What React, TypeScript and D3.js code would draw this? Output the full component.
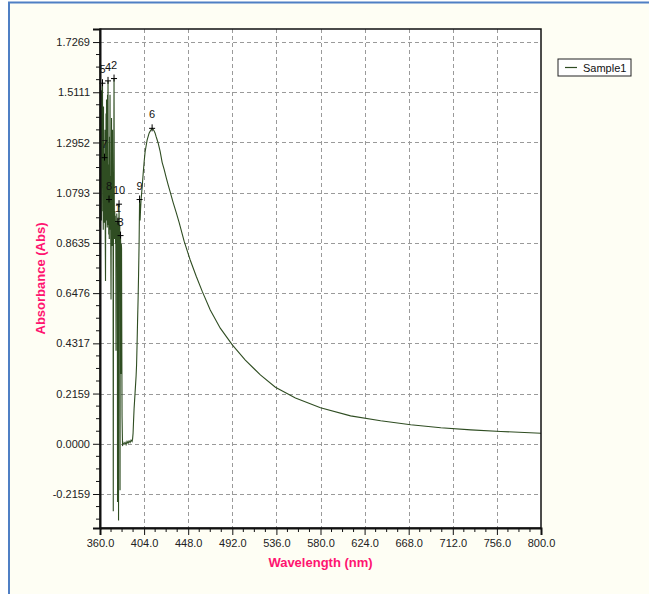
import React, { useEffect, useRef } from 'react';
import * as d3 from 'd3';

// noisy start of the spectrum, 0.25 nm grid (nm / Abs)
const noiseWavelengths = [
  360.0, 360.25, 360.5, 360.75, 361.0, 361.25, 361.5, 361.75,
  362.0, 362.25, 362.5, 362.75, 363.0, 363.25, 363.5, 363.75,
  364.0, 364.25, 364.5, 364.75, 365.0, 365.25, 365.5, 365.75,
  366.0, 366.25, 366.5, 366.75, 367.0, 367.25, 367.5, 367.75,
  368.0, 368.25, 368.5, 368.75, 369.0, 369.25, 369.5, 369.75,
  370.0, 370.25, 370.5, 370.75, 371.0, 371.25, 371.5, 371.75,
  372.0, 372.25, 372.5, 372.75, 373.0, 373.25, 373.5, 373.75,
  374.0, 374.25, 374.5, 374.75, 375.0, 375.25, 375.5, 375.75,
  376.0, 376.25, 376.5, 376.75, 377.0, 377.25, 377.5, 377.75,
  378.0, 378.25, 378.5, 378.75, 379.0, 379.25, 379.5, 379.75,
  380.0, 380.25, 380.5, 380.75, 381.0, 381.25, 381.5, 381.75,
  382.0, 382.25, 382.5, 382.75, 383.0,
];
const noiseAbsorbance = [
  0.93, 1.30, 1.45, 1.02, 1.20, 1.52, 0.96, 1.38,
  1.10, 1.47, 1.55, 1.00, 1.28, 0.92, 1.45, 1.05,
  1.18, 0.95, 1.23, 0.98, 1.35, 0.88, 0.70, 1.10,
  1.42, 0.96, 1.48, 1.02, 1.25, 0.93, 1.50, 1.12,
  1.56, 0.94, 1.20, 0.90, 1.05, 0.88, 1.32, 0.92,
  1.50, 0.97, 1.15, 0.86, 0.62, 0.95, 1.40, 0.90,
  1.02, 0.85, 1.35, 0.92, 1.00, -0.29, 0.95, 1.20,
  1.57, 1.05, 0.88, 1.00, 0.90, 0.98, 0.86, 0.95,
  0.40, 0.92, 0.87, 0.99, 0.90, 0.97, -0.25, 0.93,
  0.955, 0.88, -0.33, 0.92, 1.03, 0.90, 0.86, 0.94,
  -0.20, 0.88, 0.895, 0.80, 0.30, 0.86, 0.84, 0.45,
  0.12, 0.05, -0.01, 0.01, 0.0,
];

// baseline, band and tail
const bandWavelengths = [
  384, 385, 386, 387, 388, 389, 390, 391, 392, 392.5, 393, 393.5, 394, 395, 396, 396.5,
  397, 397.5, 398, 398.5, 399, 399.5, 400, 400.5, 401, 402, 403, 404, 405, 406,
  407, 408, 409, 410, 411, 412, 413, 414, 415, 416, 417, 418, 420, 422, 424,
  426, 428, 430, 433, 436, 439, 444, 450, 456, 462, 470, 480, 492, 505, 520,
  535, 555, 580, 610, 640, 670, 700, 730, 760, 800,
];
const bandAbsorbance = [
  0.0, 0.006, -0.004, 0.01, 0.002, 0.012, 0.005, 0.016, 0.01, 0.02, 0.045, 0.10, 0.15, 0.22, 0.29, 0.34,
  0.43, 0.53, 0.62, 0.73, 0.86, 1.05, 0.96, 1.01, 1.05, 1.10, 1.157, 1.21, 1.255, 1.28,
  1.305, 1.32, 1.335, 1.343, 1.35, 1.356, 1.352, 1.345, 1.335, 1.32, 1.307, 1.293, 1.257, 1.21, 1.18,
  1.145, 1.113, 1.083, 1.037, 0.995, 0.951, 0.87, 0.79, 0.72, 0.655, 0.575, 0.497, 0.425, 0.36, 0.296,
  0.243, 0.197, 0.155, 0.12, 0.099, 0.082, 0.069, 0.06, 0.053, 0.045,
];

const peakLabels = ['5', '7', '4', '8', '2', '1', '10', '3', '9', '6'];
const peakWavelengths = [362.5, 364.5, 368.0, 369.0, 374.0, 378.0, 379.0, 380.5, 399.5, 412];

const xTicks = [360, 404, 448, 492, 536, 580, 624, 668, 712, 756, 800];
const yTicks = [-0.2159, 0, 0.2159, 0.4317, 0.6476, 0.8635, 1.0793, 1.2952, 1.5111, 1.7269];

const seriesName = 'Sample1';

const W = 649;
const H = 594;
const plot = { left: 100, top: 29, right: 541, bottom: 528 };
const font = '"Liberation Sans", Arial, sans-serif';
const lineColor = '#2f4d22';
const titleColor = '#ff1470';

export default function App() {
  const ref = useRef<SVGSVGElement>(null);

  useEffect(() => {
    const svg = d3.select(ref.current);
    svg.selectAll('*').remove();

    const wavelengths = noiseWavelengths.concat(bandWavelengths);
    const absorbance = noiseAbsorbance.concat(bandAbsorbance);

    // outer panel
    svg.append('rect').attr('width', W).attr('height', H).attr('fill', '#ffffff');
    svg.append('rect')
      .attr('x', 9).attr('y', 2.5).attr('width', W + 20).attr('height', H + 20)
      .attr('fill', '#fefef4').attr('stroke', '#4f7fc4').attr('stroke-width', 2);

    const x = d3.scaleLinear().domain([360, 800]).range([plot.left, plot.right]);
    const y = d3.scaleLinear().domain([-0.362, 1.783]).range([plot.bottom, plot.top]);

    svg.append('rect')
      .attr('x', plot.left).attr('y', plot.top)
      .attr('width', plot.right - plot.left).attr('height', plot.bottom - plot.top)
      .attr('fill', '#ffffff');

    // dashed grid
    const grid = svg.append('g').attr('stroke', '#9a9a9a').attr('stroke-dasharray', '4,3').attr('stroke-width', 1);
    xTicks.slice(1, -1).forEach(t => {
      grid.append('line').attr('x1', Math.round(x(t)) + 0.5).attr('x2', Math.round(x(t)) + 0.5)
        .attr('y1', plot.top).attr('y2', plot.bottom);
    });
    yTicks.forEach(t => {
      grid.append('line').attr('y1', Math.round(y(t)) + 0.5).attr('y2', Math.round(y(t)) + 0.5)
        .attr('x1', plot.left).attr('x2', plot.right);
    });

    // spectrum
    const pts: [number, number][] = wavelengths.map((w, i) => [w, absorbance[i]]);
    const line = d3.line<[number, number]>().x(d => x(d[0])).y(d => y(d[1]));
    svg.append('path').datum(pts)
      .attr('d', line).attr('fill', 'none')
      .attr('stroke', lineColor).attr('stroke-width', 1.1);

    // peak markers
    peakWavelengths.forEach((w, i) => {
      const v = absorbance[wavelengths.indexOf(w)];
      const px = x(w), py = y(v);
      svg.append('line').attr('x1', px - 3).attr('x2', px + 3).attr('y1', py).attr('y2', py)
        .attr('stroke', '#000').attr('stroke-width', 1);
      svg.append('line').attr('x1', px).attr('x2', px).attr('y1', py - 4).attr('y2', py + 3)
        .attr('stroke', '#000').attr('stroke-width', 1);
      svg.append('text').attr('x', px).attr('y', py - 10)
        .attr('text-anchor', 'middle').attr('font-family', font).attr('font-size', 11)
        .attr('fill', '#111').text(peakLabels[i]);
    });

    // frame
    svg.append('rect')
      .attr('x', plot.left).attr('y', plot.top)
      .attr('width', plot.right - plot.left).attr('height', plot.bottom - plot.top)
      .attr('fill', 'none').attr('stroke', '#111').attr('stroke-width', 1.5);

    // axes
    const xAxis = d3.axisBottom(x).tickValues(xTicks).tickSize(7)
      .tickFormat(d => (+d).toFixed(1));
    const gx = svg.append('g').attr('transform', `translate(0,${plot.bottom})`).call(xAxis);
    const xMinor = [371, 382, 393, 415, 426, 437, 459, 470, 481, 503, 514, 525, 547, 558, 569,
      591, 602, 613, 635, 646, 657, 679, 690, 701, 723, 734, 745, 767, 778, 789];
    gx.selectAll('.minor').data(xMinor).enter().append('line')
      .attr('x1', d => x(d)).attr('x2', d => x(d)).attr('y1', 0).attr('y2', 4).attr('stroke', '#111');

    const yAxis = d3.axisLeft(y).tickValues(yTicks).tickSize(7)
      .tickFormat(d => (+d).toFixed(4));
    const gy = svg.append('g').attr('transform', `translate(${plot.left},0)`).call(yAxis);
    const step = 0.2159 / 4;
    const yMinor = d3.range(-6, 33).filter(k => k % 4 !== 0).map(k => k * step)
      .filter(v => y(v) <= plot.bottom && y(v) >= plot.top);
    gy.selectAll('.minor').data(yMinor).enter().append('line')
      .attr('y1', d => y(d)).attr('y2', d => y(d)).attr('x1', 0).attr('x2', -4).attr('stroke', '#111');

    [gx, gy].forEach(g => {
      g.select('.domain').attr('stroke', '#111').attr('stroke-width', 2);
      g.selectAll('.tick line').attr('stroke', '#111');
      g.selectAll('.tick text').attr('font-family', font).attr('font-size', 11).attr('fill', '#222');
    });
    gx.selectAll('.tick text').attr('dy', '0.71em').attr('y', 11);
    gy.selectAll('.tick text').attr('x', -10);

    // axis titles
    svg.append('text')
      .attr('x', (plot.left + plot.right) / 2).attr('y', 567)
      .attr('text-anchor', 'middle').attr('font-family', font).attr('font-weight', 'bold')
      .attr('font-size', 13).attr('fill', titleColor).text('Wavelength (nm)');
    svg.append('text')
      .attr('transform', `translate(45,${(plot.top + plot.bottom) / 2}) rotate(-90)`)
      .attr('text-anchor', 'middle').attr('font-family', font).attr('font-weight', 'bold')
      .attr('font-size', 13).attr('fill', titleColor).text('Absorbance (Abs)');

    // legend
    const lg = svg.append('g').attr('transform', 'translate(558,59)');
    lg.append('rect').attr('width', 73).attr('height', 17)
      .attr('fill', '#ffffff').attr('stroke', '#222').attr('stroke-width', 1);
    lg.append('line').attr('x1', 7).attr('x2', 19).attr('y1', 8.5).attr('y2', 8.5)
      .attr('stroke', lineColor).attr('stroke-width', 1.2);
    lg.append('text').attr('x', 25).attr('y', 12.5)
      .attr('font-family', font).attr('font-size', 11).attr('fill', '#111').text(seriesName);
  }, []);

  return (
    <svg ref={ref} width={W} height={H}
      style={{ position: 'absolute', left: 0, top: 0, display: 'block' }} />
  );
}
